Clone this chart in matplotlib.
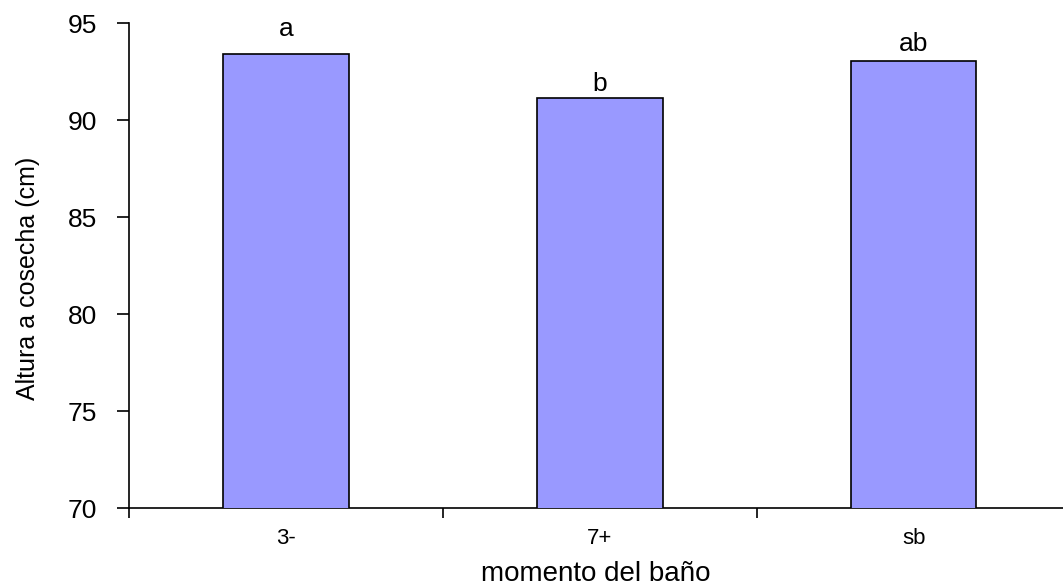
import numpy as np
import matplotlib
matplotlib.use("Agg")
import matplotlib.pyplot as plt
from matplotlib.ticker import FixedLocator

## data
categorias = ["3-", "7+", "sb"]
altura = [93.45, 91.16, 93.07]
letras = ["a", "b", "ab"]

plt.rcParams['font.family'] = ['Liberation Sans', 'DejaVu Sans']

fig = plt.figure(figsize=(10.63, 5.87), dpi=100)
ax = fig.add_axes([0.1216, 0.134, 0.8784, 0.826])

x = np.arange(len(categorias))
ax.bar(x, altura, width=0.4, color="#9999ff", edgecolor="black", linewidth=1.2, zorder=3)

# letters sit at slightly different heights above each bar
pos_letras = [94.35, 91.53, 93.59]
for xi, yl, l in zip(x, pos_letras, letras):
    ax.text(xi, yl, l, ha="center", va="baseline", fontsize=19)

ax.set_xlim(-0.5, 2.476)
ax.set_ylim(70, 95)
ax.set_yticks([70, 75, 80, 85, 90, 95])

# ticks between categories, labels at the centre
ax.xaxis.set_major_locator(FixedLocator([-0.5, 0.5, 1.5]))
ax.xaxis.set_major_formatter(plt.NullFormatter())
ax.xaxis.set_minor_locator(FixedLocator(x))
ax.set_xticklabels(categorias, minor=True, fontsize=16)
ax.tick_params(axis="x", which="major", direction="out", length=7, width=1.2)
ax.tick_params(axis="x", which="minor", length=0, pad=14)
ax.tick_params(axis="y", direction="out", length=9, width=1.2, pad=14, labelsize=19)

for s in ["top", "right"]:
    ax.spines[s].set_visible(False)
ax.spines["left"].set_linewidth(1.2)
ax.spines["bottom"].set_linewidth(1.2)

ax.set_xlabel("momento del baño", fontsize=20)
ax.xaxis.label.set_va("baseline")
ax.xaxis.set_label_coords(0.5, -0.150)
ax.set_ylabel("Altura a cosecha (cm)", fontsize=18)
ax.yaxis.label.set_va("center")
ax.yaxis.set_label_coords(-0.108, 0.475)

fig.savefig("out.png", dpi=100)
